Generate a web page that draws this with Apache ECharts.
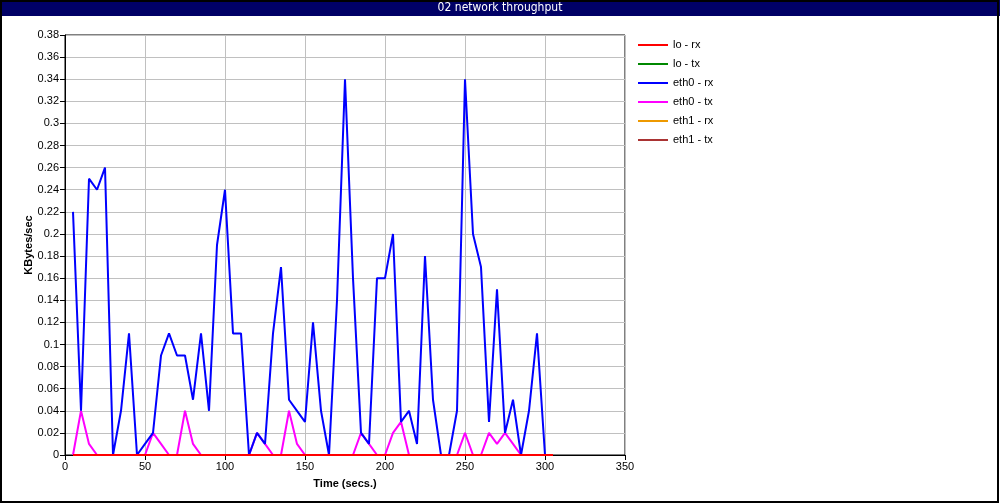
<!DOCTYPE html>
<html>
<head>
<meta charset="utf-8">
<script src="https://cdn.jsdelivr.net/npm/echarts@6/dist/echarts.min.js"></script>
<style>
html,body{margin:0;padding:0;background:#fff;}
#chart{width:1000px;height:504px;}
</style>
</head>
<body>
<div id="chart"></div>
<script>
var titleText = '02 network throughput';
var seriesNames = ['lo - rx', 'lo - tx', 'eth0 - rx', 'eth0 - tx', 'eth1 - rx', 'eth1 - tx'];
var xTicks = [0, 50, 100, 150, 200, 250, 300, 350];
var times = [5,10,15,20,25,30,35,40,45,50,55,60,65,70,75,80,85,90,95,100,
  105,110,115,120,125,130,135,140,145,150,155,160,165,170,175,180,185,190,195,200,
  205,210,215,220,225,230,235,240,245,250,255,260,265,270,275,280,285,290,295,300,305];
var loRx = [0,0,0,0,0,0,0,0,0,0,0,0,0,0,0,0,0,0,0,0,
  0,0,0,0,0,0,0,0,0,0,0,0,0,0,0,0,0,0,0,0,
  0,0,0,0,0,0,0,0,0,0,0,0,0,0,0,0,0,0,0,0,0];
var loTx = [0,0,0,0,0,0,0,0,0,0,0,0,0,0,0,0,0,0,0,0,
  0,0,0,0,0,0,0,0,0,0,0,0,0,0,0,0,0,0,0,0,
  0,0,0,0,0,0,0,0,0,0,0,0,0,0,0,0,0,0,0,0,0];
var eth0Rx = [0.22,0.04,0.25,0.24,0.26,0,0.04,0.11,0,0.01,0.02,0.09,0.11,0.09,0.09,0.05,0.11,0.04,0.19,0.24,
  0.11,0.11,0,0.02,0.01,0.11,0.17,0.05,0.04,0.03,0.12,0.04,0,0.14,0.34,0.16,0.02,0.01,0.16,0.16,
  0.2,0.03,0.04,0.01,0.18,0.05,0,0,0.04,0.34,0.2,0.17,0.03,0.15,0.02,0.05,0,0.04,0.11,0,0];
var eth0Tx = [0,0.04,0.01,0,0,0,0,0,0,0,0.02,0.01,0,0,0.04,0.01,0,0,0,0,
  0,0,0,0.02,0.01,0,0,0.04,0.01,0,0,0,0,0,0,0,0.02,0.01,0,0,
  0.02,0.03,0,0,0,0,0,0,0,0.02,0,0,0.02,0.01,0.02,0.01,0,0,0,0,0];
var eth1Rx = [0,0,0,0,0,0,0,0,0,0,0,0,0,0,0,0,0,0,0,0,
  0,0,0,0,0,0,0,0,0,0,0,0,0,0,0,0,0,0,0,0,
  0,0,0,0,0,0,0,0,0,0,0,0,0,0,0,0,0,0,0,0,0];
var eth1Tx = [0,0,0,0,0,0,0,0,0,0,0,0,0,0,0,0,0,0,0,0,
  0,0,0,0,0,0,0,0,0,0,0,0,0,0,0,0,0,0,0,0,
  0,0,0,0,0,0,0,0,0,0,0,0,0,0,0,0,0,0,0,0,0];

var seriesValues = [loRx, loTx, eth0Rx, eth0Tx, eth1Rx, eth1Tx];
var colors = ['#ff0000', '#008800', '#0000ff', '#ff00ff', '#ee9900', '#aa3333'];
var zOrder = [9, 8, 7, 6, 5, 4];

function pairs(vals) {
  var out = [];
  for (var i = 0; i < times.length; i++) out.push([times[i], vals[i]]);
  return out;
}

var font = '"Liberation Sans", Arial, Helvetica, sans-serif';
var chart = echarts.init(document.getElementById('chart'), null, {renderer: 'canvas'});
var series = seriesNames.map(function (n, i) {
  return {
    name: n,
    type: 'line',
    data: pairs(seriesValues[i]),
    showSymbol: false,
    symbol: 'none',
    lineStyle: {color: colors[i], width: 2},
    itemStyle: {color: colors[i]},
    z: zOrder[i],
    silent: true
  };
});

chart.setOption({
  animation: false,
  backgroundColor: '#fff',
  textStyle: {fontFamily: font},
  graphic: [
    {type: 'rect', shape: {x: 0, y: 0, width: 1000, height: 16}, style: {fill: '#000066'}, z: 10},
    {type: 'text', x: 500, y: 8, style: {text: titleText, fill: '#fff', font: '12px "Liberation Sans Narrow", "DejaVu Sans Condensed", sans-serif', textAlign: 'center', textVerticalAlign: 'middle'}, z: 11},
    {type: 'rect', shape: {x: 1, y: 1, width: 997, height: 501}, style: {fill: 'none', stroke: '#000', lineWidth: 2}, z: 12}
  ],
  legend: {
    orient: 'vertical',
    left: 638,
    top: 39,
    padding: 0,
    itemWidth: 30,
    itemHeight: 2,
    itemGap: 7,
    icon: 'rect',
    data: seriesNames,
    textStyle: {fontSize: 11, color: '#000', lineHeight: 12, fontFamily: font},
    selectedMode: false
  },
  grid: {left: 65, top: 35, width: 560, height: 420, show: true, borderColor: '#000', borderWidth: 1, backgroundColor: 'transparent'},
  xAxis: {
    type: 'value',
    min: 0, max: 350, interval: 50,
    name: 'Time (secs.)',
    nameLocation: 'middle',
    nameGap: 23,
    nameMoveOverlap: false,
    nameTextStyle: {fontWeight: 'bold', fontSize: 11, color: '#000'},
    axisLine: {show: true, onZero: false, lineStyle: {color: '#000', width: 1}},
    axisTick: {show: true, inside: false, length: 5, lineStyle: {color: '#000'}},
    axisLabel: {color: '#000', fontSize: 11, margin: 6, formatter: function (v) { return xTicks.indexOf(v) >= 0 ? String(v) : ''; }},
    splitLine: {show: true, lineStyle: {color: '#c0c0c0', width: 1}}
  },
  yAxis: {
    type: 'value',
    min: 0, max: 0.38, interval: 0.02,
    name: 'KBytes/sec',
    nameLocation: 'middle',
    nameGap: 31,
    nameMoveOverlap: false,
    nameRotate: 90,
    nameTextStyle: {fontWeight: 'bold', fontSize: 11, color: '#000'},
    axisLine: {show: true, onZero: false, lineStyle: {color: '#000', width: 1}},
    axisTick: {show: true, inside: false, length: 5, lineStyle: {color: '#000'}},
    axisLabel: {color: '#000', fontSize: 11, margin: 6, formatter: function (v) { return String(Math.round(v * 100) / 100); }},
    splitLine: {show: true, lineStyle: {color: '#c0c0c0', width: 1}}
  },
  series: series
});
</script>
</body>
</html>
